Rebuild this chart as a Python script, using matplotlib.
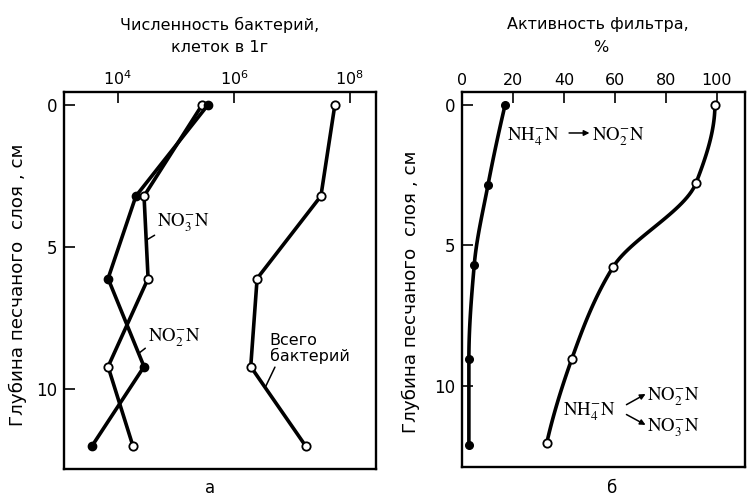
import numpy as np
import matplotlib.pyplot as plt
from matplotlib.ticker import NullLocator

# panel "а": bacteria count (log10 of cells per 1 g) against sand depth, cm
depth_a = [0, 3.2, 6.1, 9.2, 12.0]
no2_log = [5.55, 4.31, 3.83, 4.45, 3.55]    # filled circles, NO2-N
no3_log = [5.45, 4.45, 4.52, 3.83, 4.26]    # open circles, NO3-N
total_log = [7.74, 7.50, 6.40, 6.29, 7.24]  # open circles, all bacteria

# panel "б": filter activity, %
depth_nitrite = [0, 2.85, 5.7, 9.04, 12.1]
act_nitrite = [16.9, 10.2, 4.8, 2.7, 2.7]   # NH4-N -> NO2-N
depth_full = [0, 2.78, 5.77, 9.04, 12.06]
act_full = [99.2, 91.8, 59.3, 43.1, 33.2]   # NH4-N -> NO2-N, NO3-N

W, H = 749, 499
LW = 2.6
SANS = 11.5


def pchip(x, y, n=30):
    # monotone cubic through the measured points, used only to draw the smooth curves
    x = np.asarray(x, float)
    y = np.asarray(y, float)
    h = np.diff(x)
    d = np.diff(y) / h
    m = np.zeros_like(y)
    for k in range(1, len(x) - 1):
        if d[k - 1] * d[k] > 0:
            w1 = 2 * h[k] + h[k - 1]
            w2 = h[k] + 2 * h[k - 1]
            m[k] = (w1 + w2) / (w1 / d[k - 1] + w2 / d[k])

    def end(h0, h1, d0, d1):
        s = ((2 * h0 + h1) * d0 - h0 * d1) / (h0 + h1)
        if np.sign(s) != np.sign(d0):
            return 0.0
        if np.sign(d0) != np.sign(d1) and abs(s) > abs(3 * d0):
            return 3 * d0
        return s

    m[0] = end(h[0], h[1], d[0], d[1])
    m[-1] = end(h[-1], h[-2], d[-1], d[-2])
    xs, ys = [], []
    t = np.linspace(0, 1, n)
    h00 = 2 * t**3 - 3 * t**2 + 1
    h10 = t**3 - 2 * t**2 + t
    h01 = -2 * t**3 + 3 * t**2
    h11 = t**3 - t**2
    for k in range(len(h)):
        xs.append(x[k] + t * h[k])
        ys.append(h00 * y[k] + h10 * h[k] * m[k] + h01 * y[k + 1] + h11 * h[k] * m[k + 1])
    return np.concatenate(xs), np.concatenate(ys)


def box(x0, y0, x1, y1):
    return [x0 / W, 1 - y1 / H, (x1 - x0) / W, (y1 - y0) / H]


fig = plt.figure(figsize=(W / 100, H / 100), dpi=100)
ax_a = fig.add_axes(box(64, 92, 376, 469))
ax_b = fig.add_axes(box(462, 92, 745, 467))

open_mk = dict(marker="o", ms=6, mfc="white", mec="black", mew=1.3)
fill_mk = dict(marker="o", ms=6, mfc="black", mec="black")

# ---- panel а
cnt = lambda v: [10**e for e in v]
ax_a.plot(cnt(no3_log), depth_a, color="black", lw=LW, **open_mk)
ax_a.plot(cnt(no2_log), depth_a, color="black", lw=LW, **fill_mk)
ax_a.plot(cnt(total_log), depth_a, color="black", lw=LW, **open_mk)

ax_a.set_xscale("log")
ax_a.set_xlim(10**3.07, 10**8.45)
ax_a.set_ylim(12.8, -0.46)
ax_a.set_xticks([1e4, 1e6, 1e8])
ax_a.xaxis.set_minor_locator(NullLocator())

chem = dict(fontsize=13.5, math_fontfamily="stix", color="black")
lead = dict(arrowstyle="-", lw=1.1, color="black", shrinkA=0, shrinkB=0)
ax_a.annotate(r"$\mathrm{NO_3^{-}N}$", xy=(10**4.49, 4.75), xytext=(10**4.68, 4.15),
              ha="left", va="center", arrowprops=dict(relpos=(0.05, 0.1), **lead), **chem)
ax_a.annotate(r"$\mathrm{NO_2^{-}N}$", xy=(10**4.36, 8.73), xytext=(10**4.52, 8.2),
              ha="left", va="center", arrowprops=dict(relpos=(0.0, 0.15), **lead), **chem)
ax_a.annotate("Всего\nбактерий", xy=(10**6.54, 9.93), xytext=(10**6.62, 8.56),
              ha="left", va="center", fontsize=SANS, linespacing=1.05,
              arrowprops=dict(relpos=(0.08, 0.0), **lead))

# ---- panel б
yy, xx = pchip(depth_nitrite, act_nitrite)
ax_b.plot(xx, yy, color="black", lw=LW)
ax_b.plot(act_nitrite, depth_nitrite, ls="none", marker="o", ms=5.5, color="black")
yy, xx = pchip(depth_full, act_full)
ax_b.plot(xx, yy, color="black", lw=LW)
ax_b.plot(act_full, depth_full, ls="none", **open_mk)

ax_b.set_xlim(0, 111)
ax_b.set_ylim(12.9, -0.46)
ax_b.set_xticks([0, 20, 40, 60, 80, 100])

arr = dict(arrowstyle="-|>", lw=1.1, color="black", mutation_scale=8, shrinkA=0, shrinkB=0)
ax_b.text(17.6, 1.14, r"$\mathrm{NH_4^{-}N}$", ha="left", va="center", **chem)
ax_b.annotate("", xy=(50.0, 1.0), xytext=(42.0, 1.0), arrowprops=arr)
ax_b.text(51.0, 1.14, r"$\mathrm{NO_2^{-}N}$", ha="left", va="center", **chem)

ax_b.text(39.6, 10.93, r"$\mathrm{NH_4^{-}N}$", ha="left", va="center", **chem)
ax_b.annotate("", xy=(72.0, 10.3), xytext=(64.5, 10.68), arrowprops=arr)
ax_b.annotate("", xy=(72.0, 11.4), xytext=(64.5, 11.03), arrowprops=arr)
ax_b.text(72.6, 10.39, r"$\mathrm{NO_2^{-}N}$", ha="left", va="center", **chem)
ax_b.text(72.6, 11.49, r"$\mathrm{NO_3^{-}N}$", ha="left", va="center", **chem)

for ax in (ax_a, ax_b):
    ax.xaxis.tick_top()
    ax.set_yticks([0, 5, 10])
    ax.tick_params(axis="x", direction="in", length=8, width=1.2, pad=3, labelsize=SANS)
    ax.tick_params(axis="y", direction="in", length=8, width=1.2, pad=5, labelsize=12)
    for s in ax.spines.values():
        s.set_linewidth(1.7)

# titles, axis labels, panel letters
fig.text(220 / W, 1 - 25 / H, "Численность бактерий,", ha="center", va="center", fontsize=SANS)
fig.text(220 / W, 1 - 47 / H, "клеток в 1г", ha="center", va="center", fontsize=SANS)
fig.text(598 / W, 1 - 25 / H, "Активность фильтра,", ha="center", va="center", fontsize=SANS)
fig.text(601 / W, 1 - 48 / H, "%", ha="center", va="center", fontsize=SANS)

ylab = "Глубина песчаного  слоя , см"
fig.text(18 / W, 1 - 285 / H, ylab, rotation=90, ha="center", va="center", fontsize=13.2)
fig.text(411 / W, 1 - 292 / H, ylab, rotation=90, ha="center", va="center", fontsize=13.2)

fig.text(210 / W, 1 - 488 / H, "а", ha="center", va="center", fontsize=12)
fig.text(612 / W, 1 - 488 / H, "б", ha="center", va="center", fontsize=12)

fig.savefig("out.png", dpi=100)
